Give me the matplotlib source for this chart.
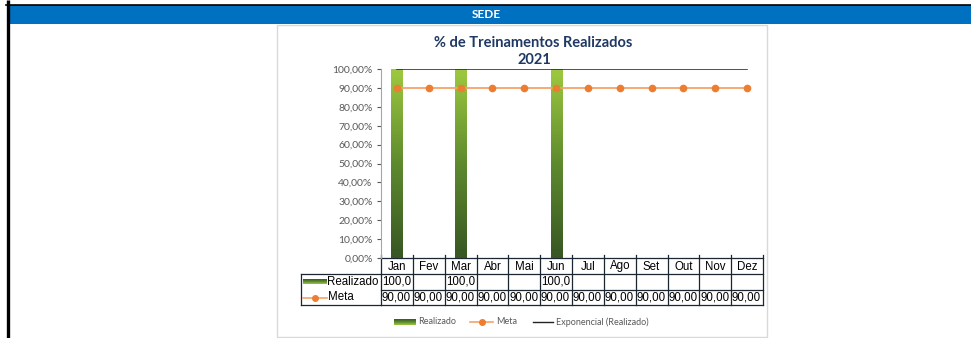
import numpy as np
import matplotlib
matplotlib.use("Agg")
import matplotlib.pyplot as plt
from matplotlib.colors import LinearSegmentedColormap
from matplotlib.ticker import FuncFormatter, MultipleLocator

meses = ["Jan", "Fev", "Mar", "Abr", "Mai", "Jun", "Jul", "Ago", "Set", "Out", "Nov", "Dez"]
realizado = [100, None, 100, None, None, 100, None, None, None, None, None, None]
meta = [90] * 12

W, H = 971, 338
fig = plt.figure(figsize=(W / 100, H / 100), dpi=100)

# fundo em coordenadas de pixel: moldura, faixa azul, tabela e legenda
bg = fig.add_axes([0, 0, 1, 1])
bg.set_xlim(0, W)
bg.set_ylim(H, 0)
bg.axis("off")

verde = LinearSegmentedColormap.from_list("verde", ["#375623", "#5E8A2E", "#9DC940"])
grad = np.linspace(0, 1, 256).reshape(-1, 1)

bg.plot([7.5, 7.5], [0, H], color="black", lw=2.4, solid_capstyle="butt")
bg.plot([6, W], [4.5, 4.5], color="black", lw=1.2)
bg.add_patch(plt.Rectangle((9, 5), W - 9, 19, color="#0070C0", lw=0))
bg.text(486, 14.5, "SEDE", color="white", ha="center", va="center",
        fontsize=8.5, fontweight="bold", family="Lato")
bg.add_patch(plt.Rectangle((277, 25), 489.5, 311.5, fill=False, ec="#D9D9D9", lw=1))

bg.text(533, 43, "% de Treinamentos Realizados", ha="center", va="center",
        fontsize=10.5, fontweight="bold", color="#1F3864", family="Lato")
bg.text(534, 60, "2021", ha="center", va="center",
        fontsize=10.5, fontweight="bold", color="#1F3864", family="Lato")

# grafico principal
x0, x1, ytop, ybot = 381, 763, 69, 258
ax = fig.add_axes([x0 / W, 1 - ybot / H, (x1 - x0) / W, (ybot - ytop) / H])
ax.patch.set_alpha(0)
x = np.arange(len(meses))

bars = ax.bar(x, [v if v is not None else 0 for v in realizado], width=0.35,
              color="none", lw=0)
for b, v in zip(bars, realizado):
    if v is None:
        continue
    im = ax.imshow(grad, cmap=verde, origin="lower", aspect="auto",
                   extent=(b.get_x(), b.get_x() + b.get_width(), 0, v), zorder=2)
    im.set_clip_path(b)

ax.plot(x, meta, color="#F4A46A", lw=1.3, marker="o", ms=4.5,
        mfc="#ED7D31", mec="#ED7D31", zorder=3)

# linha de tendencia exponencial do realizado
xi = np.array([i for i, v in enumerate(realizado) if v is not None])
yi = np.array([v for v in realizado if v is not None], dtype=float)
k, c = np.polyfit(xi, np.log(yi), 1)
ax.plot(x, np.exp(c + k * x), color="#222222", lw=1.1, zorder=4)

ax.set_xlim(-0.5, len(meses) - 0.5)
ax.set_ylim(0, 100)
ax.yaxis.set_major_locator(MultipleLocator(10))
ax.yaxis.set_major_formatter(FuncFormatter(lambda v, p: f"{v:.2f}%".replace(".", ",")))
ax.tick_params(axis="y", labelsize=7.5, colors="#595959", length=3, width=0.8, pad=3)
for lab in ax.get_yticklabels():
    lab.set_family("Lato")
ax.set_xticks([])
for s in ["top", "right", "bottom"]:
    ax.spines[s].set_visible(False)
ax.spines["left"].set_color("#A6A6A6")

# tabela de dados
cw = (x1 - x0) / len(meses)
rows = [258, 274, 289.5, 305]
lc = "#1C2633"
fs = 8.3
for yy in rows:
    bg.plot([x0, x1], [yy, yy], color=lc, lw=0.9)
bg.plot([301, x0], [rows[1], rows[1]], color=lc, lw=0.9)
bg.plot([301, x0], [rows[3], rows[3]], color=lc, lw=0.9)
bg.plot([301, 301], [rows[1], rows[3]], color=lc, lw=0.9)
for i in range(len(meses) + 1):
    xx = x0 + i * cw
    bg.plot([xx, xx], [rows[0] - 3, rows[3]], color=lc, lw=0.9)
for i, m in enumerate(meses):
    cx = x0 + i * cw
    bg.text(cx + cw / 2, 266.5, m, ha="center", va="center", fontsize=fs, family="Liberation Sans")
    if realizado[i] is not None:
        bg.text(cx + 1.5, 282, f"{realizado[i]:.1f}".replace(".", ","), ha="left",
                va="center", fontsize=fs, family="Liberation Sans")
    bg.text(cx + 0.8, 297.5, f"{meta[i]:.2f}".replace(".", ","), ha="left",
            va="center", fontsize=fs, family="Liberation Sans")

bg.imshow(grad, cmap=verde, origin="upper", aspect="auto", extent=(303, 327, 284.5, 279.5))
bg.text(327.5, 282, "Realizado", ha="left", va="center", fontsize=fs, family="Liberation Sans")
bg.plot([303, 327], [297.5, 297.5], color="#F4A46A", lw=1.2)
bg.plot([315], [297.5], "o", ms=4, color="#ED7D31")
bg.text(328, 297.5, "Meta", ha="left", va="center", fontsize=fs, family="Liberation Sans")

# legenda inferior
bg.imshow(grad, cmap=verde, origin="upper", aspect="auto", extent=(394, 416, 325, 319))
bg.text(418.5, 322, "Realizado", ha="left", va="center", fontsize=6.5, color="#595959", family="Lato")
bg.plot([470, 493], [322, 322], color="#F4A46A", lw=1.2)
bg.plot([481.5], [322], "o", ms=4, color="#ED7D31")
bg.text(496, 322, "Meta", ha="left", va="center", fontsize=6.5, color="#595959", family="Lato")
bg.plot([533, 553], [322, 322], color="#222222", lw=1)
bg.text(556, 322, "Exponencial (Realizado)", ha="left", va="center", fontsize=6.5,
        color="#595959", family="Lato")

bg.set_xlim(0, W)
bg.set_ylim(H, 0)
fig.savefig("out.png", dpi=100)
